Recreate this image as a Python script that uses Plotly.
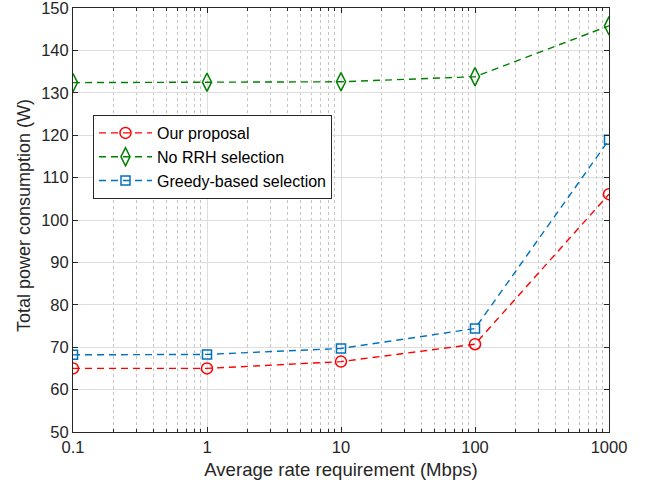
import plotly.graph_objects as go

rates = [0.1, 1, 10, 100, 1000]
our_proposal = [65.0, 65.0, 66.6, 70.7, 106.1]
no_rrh = [132.4, 132.5, 132.6, 133.8, 145.8]
greedy = [68.2, 68.3, 69.7, 74.4, 118.9]
y_ticks = [50, 60, 70, 80, 90, 100, 110, 120, 130, 140, 150]

series = [
    ("Our proposal", our_proposal, "#ff0000", "circle-open", 11),
    ("No RRH selection", no_rrh, "#008000", "diamond-tall-open", 13),
    ("Greedy-based selection", greedy, "#0072bd", "square-open", 9),
]

FONT = "Liberation Sans, Arial, Helvetica"

fig = go.Figure()
for name, vals, color, sym, sz in series:
    fig.add_trace(go.Scatter(
        x=rates, y=vals, name=name, mode="lines+markers",
        line=dict(color=color, width=1.4, dash="7px,5px"),
        marker=dict(symbol=sym, size=sz, color=color,
                    line=dict(width=1.5, color=color)),
    ))

axis_common = dict(
    showline=True, linecolor="#262626", linewidth=1, mirror="ticks",
    ticks="inside", ticklen=5, tickcolor="#262626",
    gridcolor="#dedede", gridwidth=1,
    tickfont=dict(family=FONT, size=16.5, color="#262626"),
    ticklabeloverflow="allow", automargin=False,
    zeroline=False,
)

fig.update_xaxes(
    type="log", range=[-1, 3],
    tickmode="linear", tick0=0, dtick=1, exponentformat="none",
    title=dict(text="Average rate requirement (Mbps)", standoff=8,
               font=dict(family=FONT, size=18.6, color="#262626")),
    minor=dict(dtick="D1", ticks="inside", ticklen=3, tickcolor="#262626",
               showgrid=True, gridcolor="#c4c4c4", griddash="dot", gridwidth=1),
    **axis_common,
)
fig.update_yaxes(
    range=[50, 150], tickmode="array", tickvals=y_ticks,
    **axis_common,
)

fig.add_annotation(
    text="Total power consumption (W)", textangle=-90,
    xref="paper", yref="paper", x=(24 - 73) / 536, y=(432 - 216) / 424,
    xanchor="center", yanchor="middle", showarrow=False,
    font=dict(family=FONT, size=18, color="#262626"),
)

fig.update_layout(
    width=645, height=489,
    margin=dict(l=73, r=36, t=8, b=57),
    paper_bgcolor="white", plot_bgcolor="white",
    showlegend=True,
    legend=dict(
        x=(93 - 73) / 536, y=(432 - 115) / 424, xanchor="left", yanchor="top",
        bgcolor="white", bordercolor="#262626", borderwidth=1,
        font=dict(family=FONT, size=16, color="black"),
        tracegroupgap=0, itemwidth=53,
    ),
)

fig.write_html("out.html", config={"displayModeBar": False},
               post_script="document.body.style.margin='0';")
